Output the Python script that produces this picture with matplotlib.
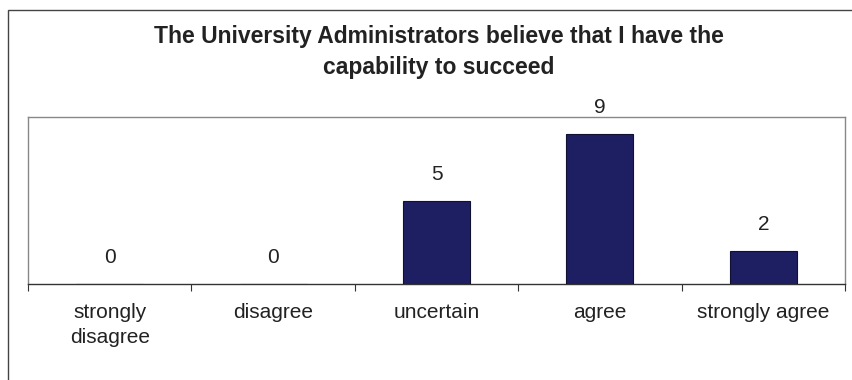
import matplotlib
matplotlib.use("Agg")
import matplotlib.pyplot as plt
from matplotlib.patches import Rectangle

categories = ["strongly\ndisagree", "disagree", "uncertain", "agree", "strongly agree"]
values = [0, 0, 5, 9, 2]
title = "The University Administrators believe that I have the\ncapability to succeed"

plt.rcParams['font.family'] = ['Liberation Sans', 'DejaVu Sans']

W, H = 853, 380
fig = plt.figure(figsize=(W / 100, H / 100), dpi=100)
fig.patch.set_facecolor('white')

# outer chart frame
fig.add_artist(Rectangle((8 / W, -0.05), 1.2, 1 - 10 / H + 0.05, transform=fig.transFigure,
                         fill=False, edgecolor='#444444', linewidth=1.0))

left, right, top, bottom = 28, 845, 117, 284
ax = fig.add_axes([left / W, 1 - bottom / H, (right - left) / W, (bottom - top) / H])

x = list(range(len(categories)))
ax.bar(x, values, width=0.41, color='#1e1e62', edgecolor='#101030', linewidth=0.8, zorder=3)
ax.set_xlim(-0.5, len(categories) - 0.5)
ax.set_ylim(0, 10)

for xi, v in zip(x, values):
    ax.annotate(str(v), (xi, v), xytext=(0, 19), textcoords='offset points',
                ha='center', va='center', fontsize=15, color='#222222',
                annotation_clip=False, zorder=5)

ax.set_xticks(x)
ax.set_xticklabels(categories, fontsize=15, color='#222222', multialignment='center',
                   linespacing=1.35)
ax.tick_params(axis='x', which='major', length=0, pad=14)
ax.set_xticks([i - 0.5 for i in range(len(categories) + 1)], minor=True)
ax.tick_params(axis='x', which='minor', length=5, width=0.8, color='#333333', direction='out')
ax.set_yticks([])

for s in ['top', 'right', 'left']:
    ax.spines[s].set_color('#888888')
    ax.spines[s].set_linewidth(1.0)
ax.spines['bottom'].set_color('#333333')
ax.spines['bottom'].set_linewidth(1.0)

fig.text((left + right) / 2 / W + 2 / W, 1 - 52 / H, title, ha='center', va='center',
         fontsize=16.5, fontweight='bold', color='#222222', linespacing=1.4)

fig.savefig("out.png", dpi=100)
